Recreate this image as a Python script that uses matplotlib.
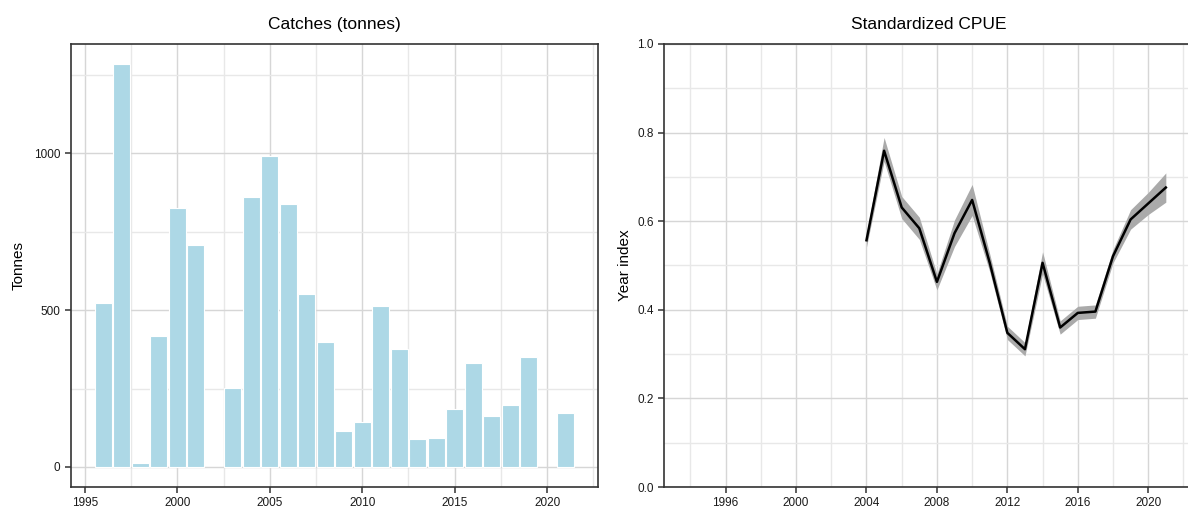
import numpy as np
import matplotlib
matplotlib.use("Agg")
import matplotlib.pyplot as plt
from matplotlib.ticker import MultipleLocator

plt.rcParams['font.family'] = ['Liberation Sans', 'DejaVu Sans']

# catches per year (tonnes)
catch_years = [1996, 1997, 1998, 1999, 2000, 2001, 2003, 2004, 2005, 2006, 2007,
               2008, 2009, 2010, 2011, 2012, 2013, 2014, 2015, 2016, 2017, 2018,
               2019, 2021]
catch_tonnes = [524, 1285, 11, 418, 825, 709, 251, 862, 992, 839, 553,
                397, 116, 143, 513, 376, 88, 93, 184, 331, 161, 196,
                352, 171]

# standardized CPUE with confidence band
cpue_years = [2004, 2005, 2006, 2007, 2008, 2009, 2010, 2011, 2012, 2013, 2014,
              2015, 2016, 2017, 2018, 2019, 2020, 2021]
cpue_index = [0.557, 0.759, 0.631, 0.584, 0.463, 0.573, 0.648, 0.506, 0.348, 0.311,
              0.506, 0.360, 0.393, 0.396, 0.521, 0.604, 0.640, 0.676]
cpue_lower = [0.542, 0.735, 0.606, 0.559, 0.445, 0.543, 0.613, 0.486, 0.333, 0.296,
              0.481, 0.345, 0.378, 0.381, 0.506, 0.582, 0.615, 0.643]
cpue_upper = [0.572, 0.789, 0.656, 0.609, 0.481, 0.603, 0.683, 0.526, 0.363, 0.326,
              0.531, 0.375, 0.408, 0.411, 0.536, 0.626, 0.665, 0.709]

spine_col = '#333333'
major_grid = '#d6d6d6'
minor_grid = '#e8e8e8'


def style_axes(ax):
    ax.set_facecolor('white')
    for s in ax.spines.values():
        s.set_color(spine_col)
        s.set_linewidth(1.2)
    ax.tick_params(which='major', direction='out', length=4, width=1.1,
                   color=spine_col, labelsize=8.5, labelcolor='#1a1a1a')
    ax.tick_params(which='minor', length=0)
    ax.grid(which='major', color=major_grid, linewidth=1.0)
    ax.grid(which='minor', color=minor_grid, linewidth=1.0)
    ax.set_axisbelow(True)


fig = plt.figure(figsize=(11.88, 5.09), dpi=100)

# catches
ax1 = fig.add_axes([71/1188, 1-487/509, 527/1188, 443/509])
ax1.bar(catch_years, catch_tonnes, width=0.9, color='#add8e6', edgecolor='white',
        linewidth=0.8)
ax1.set_xlim(1994.255, 2022.745)
ymax = max(catch_tonnes)
ax1.set_ylim(-0.05*ymax, 1.05*ymax)
ax1.xaxis.set_major_locator(MultipleLocator(5))
ax1.xaxis.set_minor_locator(MultipleLocator(2.5))
ax1.yaxis.set_major_locator(MultipleLocator(500))
ax1.yaxis.set_minor_locator(MultipleLocator(250))
style_axes(ax1)
ax1.set_ylabel('Tonnes', fontsize=11, labelpad=6)
ax1.set_title('Catches (tonnes)', fontsize=12.5, pad=11)

# cpue
ax2 = fig.add_axes([664/1188, 1-487/509, 530/1188, 443/509])
ax2.fill_between(cpue_years, cpue_lower, cpue_upper, color='#aaaaaa', linewidth=0)
ax2.plot(cpue_years, cpue_index, color='black', linewidth=1.8)
ax2.set_xlim(1992.5, 2022.6)
ax2.set_ylim(0, 1)
ax2.xaxis.set_major_locator(MultipleLocator(4))
ax2.xaxis.set_minor_locator(MultipleLocator(2))
ax2.yaxis.set_major_locator(MultipleLocator(0.2))
ax2.yaxis.set_minor_locator(MultipleLocator(0.1))
ax2.set_xticks([1996, 2000, 2004, 2008, 2012, 2016, 2020])
ax2.yaxis.set_major_formatter(matplotlib.ticker.FormatStrFormatter('%.1f'))
style_axes(ax2)
ax2.set_ylabel('Year index', fontsize=11, labelpad=4)
ax2.set_title('Standardized CPUE', fontsize=12.5, pad=11)

fig.savefig('out.png', dpi=100)
